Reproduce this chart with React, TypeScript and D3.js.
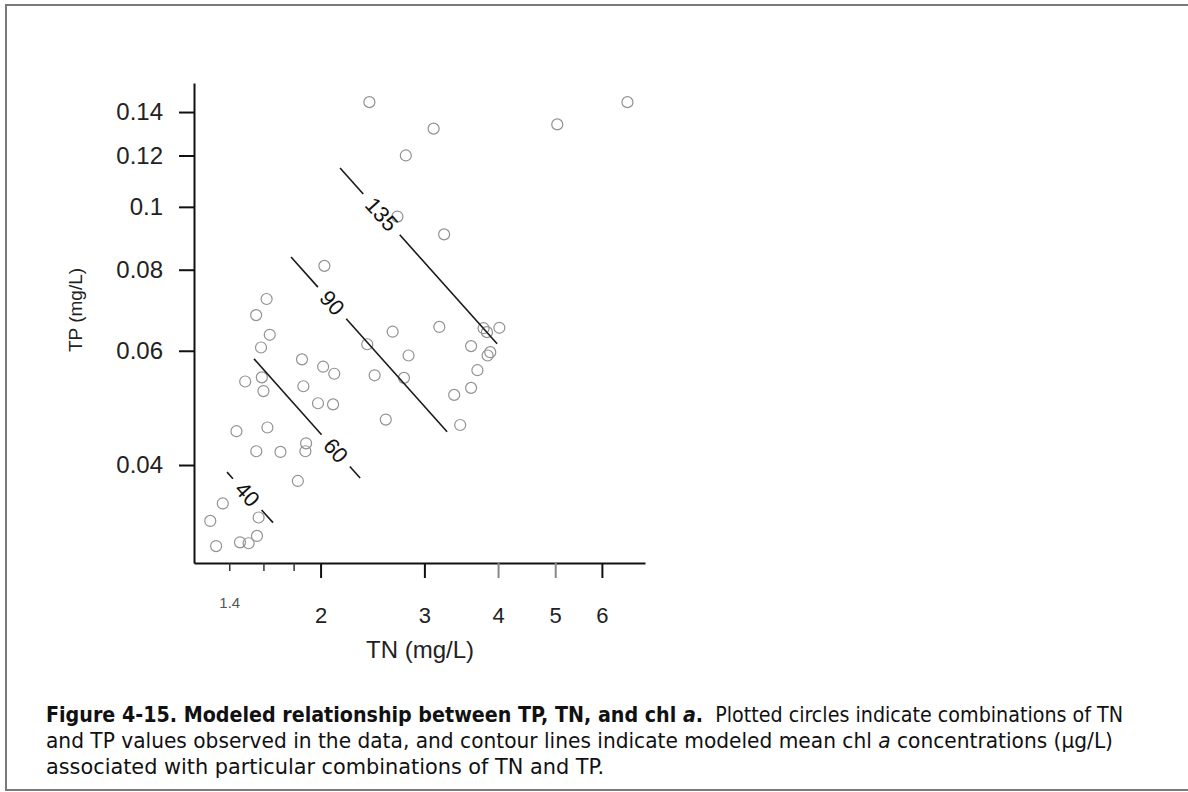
import { useRef, useEffect } from 'react';
import * as d3 from 'd3';

const width = 1188;
const height = 792;

// axes
const tnTicks = [1.4, 1.6, 1.8, 2, 3, 4, 5, 6];
const tnTickLabels = ['1.4', '', '', '2', '3', '4', '5', '6'];
const tpTicks = [0.04, 0.06, 0.08, 0.1, 0.12, 0.14];
const tpTickLabels = ['0.04', '0.06', '0.08', '0.1', '0.12', '0.14'];

// observed TN / TP combinations (mg/L)
const obsTN = [
  2.42, 6.63, 5.04, 3.11, 2.79, 2.7, 3.24, 2.03, 1.62, 1.555, 1.64, 1.585, 1.86,
  2.02, 2.11, 1.49, 1.59, 1.6, 1.87, 1.98, 2.1, 1.44, 1.625, 1.556, 1.71, 1.89,
  1.885, 1.83, 1.365, 1.3, 1.57, 1.56, 1.46, 1.51, 1.33, 2.4, 2.65, 2.82, 2.47,
  2.77, 2.58, 3.18, 3.6, 3.69, 3.37, 3.6, 3.45, 3.78, 3.83, 4.02, 3.84, 3.88,
];
const obsTP = [
  0.145, 0.145, 0.134, 0.132, 0.12, 0.0966, 0.0907, 0.0811, 0.0721, 0.0681,
  0.0635, 0.0607, 0.0582, 0.0567, 0.0553, 0.0538, 0.0546, 0.052, 0.0529, 0.0498,
  0.0496, 0.0451, 0.0457, 0.042, 0.0419, 0.0432, 0.042, 0.0378, 0.0349, 0.0328,
  0.0332, 0.0311, 0.0304, 0.0303, 0.03, 0.0614, 0.0642, 0.059, 0.055, 0.0545,
  0.047, 0.0653, 0.061, 0.056, 0.0513, 0.0526, 0.0461, 0.065, 0.0641, 0.0651,
  0.059, 0.0597,
];

// modeled chl a contours (ug/L), straight segments in log-log space
const contourLevels = ['40', '60', '90', '135'];
const contourTNFrom = [1.388, 1.542, 1.782, 2.158];
const contourTPFrom = [0.039, 0.0583, 0.0837, 0.1148];
const contourTNTo = [1.661, 2.334, 3.278, 3.985];
const contourTPTo = [0.0326, 0.0382, 0.045, 0.0615];
const contourLabelAt = [0.44, 0.77, 0.263, 0.264];

const plot = { left: 194, right: 645, top: 83, bottom: 563 };
const axisFont = "'Liberation Sans', Arial, sans-serif";
const captionFont = "'Liberation Sans Narrow', 'DejaVu Sans Condensed', 'Liberation Sans', sans-serif";

const ContourChart = () => {
  const ref = useRef<SVGSVGElement>(null);

  useEffect(() => {
    const svg = d3.select(ref.current);
    svg.selectAll('*').remove();

    const x = d3.scaleLog().domain([1.22, 7.1]).range([plot.left, plot.right]);
    const y = d3.scaleLog().domain([0.02825, 0.1552]).range([plot.bottom, plot.top]);

    // page frame
    svg.append('path')
      .attr('d', `M${width},5H6V790H${width}`)
      .attr('fill', 'none')
      .attr('stroke', '#7a7a7a')
      .attr('stroke-width', 2);

    // x axis
    const xAxis = svg.append('g')
      .attr('transform', `translate(0,${plot.bottom})`)
      .call(
        d3.axisBottom(x)
          .tickValues(tnTicks)
          .tickFormat((d, i) => tnTickLabels[i])
          .tickSize(15)
          .tickPadding(29)
          .tickSizeOuter(0)
      );
    xAxis.select('.domain').attr('stroke', '#111').attr('stroke-width', 2);
    xAxis.selectAll('.tick line').attr('stroke', '#111').attr('stroke-width', 2);
    xAxis.selectAll('.tick text')
      .attr('font-family', axisFont)
      .attr('font-size', 22)
      .attr('fill', '#222');
    xAxis.selectAll<SVGGElement, number>('.tick')
      .filter((d) => d < 2)
      .select('line')
      .attr('y2', 8)
      .attr('stroke-width', 1.5)
      .attr('stroke', '#333');
    xAxis.selectAll<SVGGElement, number>('.tick')
      .filter((d) => d === 4 || d === 5)
      .select('line')
      .attr('stroke', '#888');
    xAxis.selectAll<SVGGElement, number>('.tick')
      .filter((d) => d === 1.4)
      .select('text')
      .attr('y', 34)
      .attr('font-size', 15)
      .attr('fill', '#555');

    // y axis
    const yAxis = svg.append('g')
      .attr('transform', `translate(${plot.left},0)`)
      .call(
        d3.axisLeft(y)
          .tickValues(tpTicks)
          .tickFormat((d, i) => tpTickLabels[i])
          .tickSize(15)
          .tickPadding(16)
          .tickSizeOuter(0)
      );
    yAxis.select('.domain').attr('stroke', '#111').attr('stroke-width', 2);
    yAxis.selectAll('.tick line').attr('stroke', '#111').attr('stroke-width', 2);
    yAxis.selectAll('.tick text')
      .attr('font-family', axisFont)
      .attr('font-size', 24)
      .attr('fill', '#222');

    // axis titles
    svg.append('text')
      .attr('x', 420)
      .attr('y', 658)
      .attr('text-anchor', 'middle')
      .attr('font-family', axisFont)
      .attr('font-size', 24)
      .attr('fill', '#222')
      .text('TN (mg/L)');

    svg.append('text')
      .attr('transform', 'translate(82,310) rotate(-90)')
      .attr('text-anchor', 'middle')
      .attr('font-family', axisFont)
      .attr('font-size', 19)
      .attr('fill', '#222')
      .text('TP (mg/L)');

    // observed points
    svg.append('g')
      .selectAll('circle')
      .data(obsTN.map((tn, i) => [tn, obsTP[i]]))
      .join('circle')
      .attr('cx', (d) => x(d[0]))
      .attr('cy', (d) => y(d[1]))
      .attr('r', 5.5)
      .attr('fill', 'none')
      .attr('stroke', '#929292')
      .attr('stroke-width', 1.2);

    // contour lines with labels in a gap
    const contours = svg.append('g');
    const labelSize = 22;
    contourLevels.forEach((level, i) => {
      const x0 = x(contourTNFrom[i]);
      const y0 = y(contourTPFrom[i]);
      const x1 = x(contourTNTo[i]);
      const y1 = y(contourTPTo[i]);
      const len = Math.hypot(x1 - x0, y1 - y0);
      const t = contourLabelAt[i];
      const g = ((level.length * 0.556 * labelSize) / 2 + 9) / len;
      const at = (f: number): [number, number] => [x0 + (x1 - x0) * f, y0 + (y1 - y0) * f];
      const line = d3.line();

      contours.append('path')
        .attr('d', line([at(0), at(t - g)]))
        .attr('stroke', '#1a1a1a')
        .attr('stroke-width', 1.6)
        .attr('fill', 'none');
      contours.append('path')
        .attr('d', line([at(t + g), at(1)]))
        .attr('stroke', '#1a1a1a')
        .attr('stroke-width', 1.6)
        .attr('fill', 'none');

      const [cx, cy] = at(t);
      const angle = (Math.atan2(y1 - y0, x1 - x0) * 180) / Math.PI;
      contours.append('text')
        .attr('transform', `translate(${cx},${cy}) rotate(${angle})`)
        .attr('text-anchor', 'middle')
        .attr('dominant-baseline', 'central')
        .attr('font-family', axisFont)
        .attr('font-size', labelSize)
        .attr('fill', '#111')
        .text(level);
    });

    // caption
    const cap = svg.append('g')
      .attr('font-family', captionFont)
      .attr('font-size', 21)
      .attr('fill', '#111');

    const l1 = cap.append('text')
      .attr('x', 46)
      .attr('y', 722)
      .attr('textLength', 1077)
      .attr('lengthAdjust', 'spacingAndGlyphs');
    l1.append('tspan').attr('font-weight', 'bold').text('Figure 4-15. Modeled relationship between TP, TN, and chl ');
    l1.append('tspan').attr('font-weight', 'bold').attr('font-style', 'italic').text('a');
    l1.append('tspan').attr('font-weight', 'bold').text('.');
    l1.append('tspan').text('\u00a0 Plotted circles indicate combinations of TN');

    const l2 = cap.append('text')
      .attr('x', 46)
      .attr('y', 748)
      .attr('textLength', 1067)
      .attr('lengthAdjust', 'spacingAndGlyphs');
    l2.append('tspan').text('and TP values observed in the data, and contour lines indicate modeled mean chl ');
    l2.append('tspan').attr('font-style', 'italic').text('a');
    l2.append('tspan').text(' concentrations (\u00b5g/L)');

    cap.append('text')
      .attr('x', 46)
      .attr('y', 774)
      .attr('textLength', 558)
      .attr('lengthAdjust', 'spacingAndGlyphs')
      .text('associated with particular combinations of TN and TP.');
  }, []);

  return <svg ref={ref} width={width} height={height}></svg>;
};

export default function App() {
  return (
    <div style={{ position: 'absolute', left: 0, top: 0, width, height, background: 'white' }}>
      <ContourChart />
    </div>
  );
}
